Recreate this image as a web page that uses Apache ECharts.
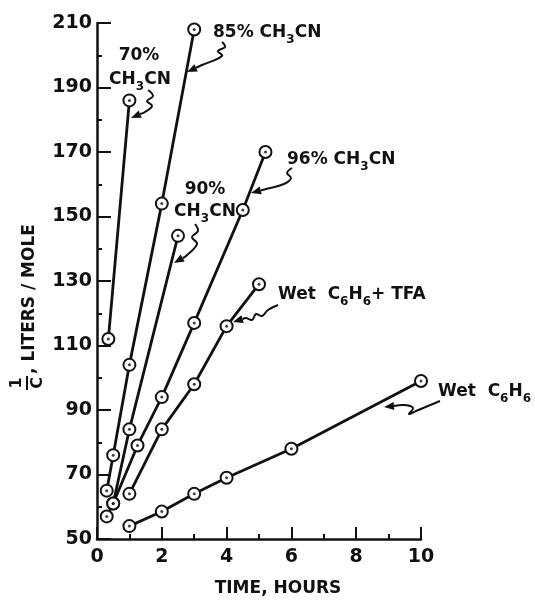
<!DOCTYPE html>
<html>
<head>
<meta charset="utf-8">
<script src="https://cdn.jsdelivr.net/npm/echarts@6/dist/echarts.min.js"></script>
<style>
    html, body { margin: 0; background: #fff; }
    #line { width: 535px; height: 602px; }
</style>
</head>
<body>
<div id="line"></div>
<script>
// time (hours) vs 1/C (liters/mole)
let acn70 = [[0.35, 112], [1, 186]]
let acn85 = [[0.3, 65], [0.5, 76], [1, 104], [2, 154], [3, 208]]
let acn90 = [[0.3, 57], [0.5, 61], [1, 84], [2.5, 144]]
let acn96 = [[0.5, 61], [1.25, 79], [2, 94], [3, 117], [4.5, 152], [5.2, 170]]
let wetTfa = [[1, 64], [2, 84], [3, 98], [4, 116], [5, 129]]
let wetBenzene = [[1, 54], [2, 58.5], [3, 64], [4, 69], [6, 78], [10, 99]]
let xTicks = [0, 2, 4, 6, 8, 10]
let yTicks = [50, 70, 90, 110, 130, 150, 170, 190, 210]

let ink = '#111'
let font = 'DejaVu Sans'
let allSets = [acn70, acn85, acn90, acn96, wetTfa, wetBenzene]

let series = []
allSets.forEach(function (d) {
    series.push({
        type: 'line',
        data: d,
        symbol: 'emptyCircle',
        symbolSize: 12,
        lineStyle: { color: ink, width: 2.8 },
        itemStyle: { color: ink, borderWidth: 2.3 },
        z: 2
    })
    series.push({
        type: 'scatter',
        data: d,
        symbol: 'circle',
        symbolSize: 3,
        itemStyle: { color: ink },
        z: 3
    })
})

// squiggly leader with arrowhead, pixel points
function arrow(pts) {
    let tip = pts[pts.length - 1]
    let prev = pts[pts.length - 2]
    let dx = tip[0] - prev[0], dy = tip[1] - prev[1]
    let len = Math.sqrt(dx * dx + dy * dy)
    dx /= len; dy /= len
    let bx = tip[0] - dx * 10, by = tip[1] - dy * 10
    return [
        { type: 'polyline', shape: { points: pts.slice(0, -1).concat([[bx, by]]), smooth: 0.4 },
          style: { stroke: ink, lineWidth: 2, fill: null } },
        { type: 'polygon', shape: { points: [tip, [bx - dy * 4, by + dx * 4], [bx + dy * 4, by - dx * 4]] },
          style: { fill: ink } }
    ]
}

let rich = {
    n: { fontFamily: font, fontWeight: 'bold', fontSize: 17, color: ink },
    s: { fontFamily: font, fontWeight: 'bold', fontSize: 12, color: ink, padding: [14, 0, 0, 0] }
}
function label(x, y, text, align) {
    return { type: 'text', x: x, y: y, style: { text: text, rich: rich, textAlign: align || 'left', textVerticalAlign: 'middle', fill: ink } }
}
let acn = '{n|CH}{s|3}{n|CN}'

let graphics = [
    label(139, 56, '{n|70%}', 'center'),
    label(140, 80, acn, 'center'),
    label(213, 33, '{n|85% }' + acn),
    label(205, 190, '{n|90%}', 'center'),
    label(205, 212, acn, 'center'),
    label(287, 160, '{n|96% }' + acn),
    label(278, 295, '{n|Wet  C}{s|6}{n|H}{s|6}{n|+ TFA}'),
    label(438, 392, '{n|Wet  C}{s|6}{n|H}{s|6}'),
    // y axis name with fraction
    {
        type: 'group', x: 27, y: 292, rotation: Math.PI / 2,
        children: [
            { type: 'text', x: -91, y: -10, style: { text: '1', font: 'bold 16px ' + font, textAlign: 'center', textVerticalAlign: 'middle', fill: ink } },
            { type: 'line', shape: { x1: -98, y1: 0, x2: -84, y2: 0 }, style: { stroke: ink, lineWidth: 2 } },
            { type: 'text', x: -91, y: 11, style: { text: 'C', font: 'bold 16px ' + font, textAlign: 'center', textVerticalAlign: 'middle', fill: ink } },
            { type: 'text', x: -82, y: 3, style: { text: ', LITERS / MOLE', font: 'bold 17px ' + font, textAlign: 'left', textVerticalAlign: 'middle', fill: ink } }
        ]
    }
]
graphics = graphics
    .concat(arrow([[148, 90], [153, 96], [147, 101], [152, 106], [145, 112], [131, 118]]))
    .concat(arrow([[222, 42], [225, 47], [218, 51], [222, 56], [202, 65], [187, 72]]))
    .concat(arrow([[195, 224], [198, 231], [192, 237], [197, 244], [186, 256], [174, 263]]))
    .concat(arrow([[292, 168], [287, 173], [291, 178], [284, 184], [266, 189], [251, 193]]))
    .concat(arrow([[278, 305], [268, 310], [262, 316], [256, 314], [252, 320], [246, 318], [233, 322]]))
    .concat(arrow([[440, 401], [416, 411], [409, 414], [413, 408], [405, 405], [384, 407]]))

let chart = echarts.init(document.querySelector('#line'))
let option = {
    backgroundColor: '#fff',
    animation: false,
    grid: { left: 97, right: 114, top: 23, bottom: 54 },
    xAxis: {
        type: 'value',
        min: xTicks[0],
        max: xTicks[xTicks.length - 1],
        interval: 2,
        name: 'TIME, HOURS',
        nameLocation: 'middle',
        nameGap: 41,
        nameTextStyle: { color: ink, fontFamily: font, fontWeight: 'bold', fontSize: 17, padding: [0, 0, 0, 38] },
        axisLine: { lineStyle: { color: ink, width: 2.5 } },
        axisTick: { inside: true, length: 12, lineStyle: { color: ink, width: 2 } },
        minorTick: { show: true, splitNumber: 2, length: 5, lineStyle: { color: ink, width: 2 } },
        axisLabel: { color: ink, fontFamily: font, fontWeight: 'bold', fontSize: 19, margin: 9 },
        splitLine: { show: false }
    },
    yAxis: {
        type: 'value',
        min: yTicks[0],
        max: yTicks[yTicks.length - 1],
        interval: 20,
        axisLine: { show: true, lineStyle: { color: ink, width: 2.5 } },
        axisTick: { show: true, inside: true, length: 14, lineStyle: { color: ink, width: 2 } },
        minorTick: { show: true, splitNumber: 2, length: 5, lineStyle: { color: ink, width: 2 } },
        axisLabel: { color: ink, fontFamily: font, fontWeight: 'bold', fontSize: 19, margin: 5 },
        splitLine: { show: false }
    },
    series: series,
    graphic: graphics
}
chart.setOption(option)
</script>
</body>
</html>
